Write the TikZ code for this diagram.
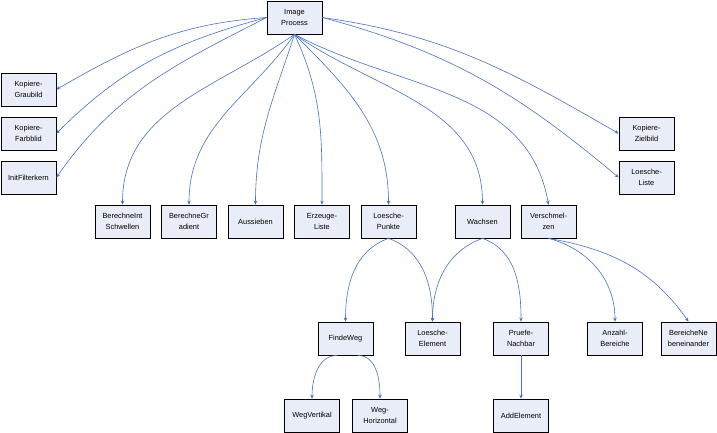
\documentclass[tikz,border=0pt]{standalone}
\usepackage{fontspec}
\setmainfont{Liberation Sans}
\usetikzlibrary{arrows.meta}
\definecolor{boxfill}{RGB}{232,237,247}
\definecolor{linkblue}{RGB}{68,114,196}
\begin{document}
\begin{tikzpicture}[x=1pt,y=-1pt,
    block/.style={draw=black,fill=boxfill,line width=0.7pt,minimum width=55pt,minimum height=33pt,inner sep=0pt,align=center,font=\fontsize{7.4}{10.5}\selectfont},
    link/.style={draw=linkblue,line width=0.6pt,-{Stealth[length=4pt,width=3.5pt]}}]
        \useasboundingbox (0,0) rectangle (717,433);

        \node[block] (ip) at (294.5,17.5) {Image\\Process};

        \node[block] (kgb) at (28.5,89.5) {Kopiere-\\Graubild};
        \node[block] (kfb) at (28.5,133.5) {Kopiere-\\Farbblid};
        \node[block] (ifk) at (28.5,177.5) {InitFilterkern};

        \node[block] (kzb) at (646.5,133.5) {Kopiere-\\Zielbild};
        \node[block] (ll) at (646.5,177.5) {Loesche-\\Liste};

        \node[block] (bis) at (122.5,221.5) {BerechneInt\\Schwellen};
        \node[block] (bg) at (189,221.5) {BerechneGr\\adient};
        \node[block] (aus) at (255.5,221.5) {Aussieben};
        \node[block] (el) at (322,221.5) {Erzeuge-\\Liste};
        \node[block] (lp) at (388.5,221.5) {Loesche-\\Punkte};
        \node[block] (wa) at (482.5,221.5) {Wachsen};
        \node[block] (vs) at (548.5,221.5) {Verschmel-\\zen};

        \node[block] (fw) at (345.5,338.5) {FindeWeg};
        \node[block] (le) at (432.5,338.5) {Loesche-\\Element};
        \node[block] (pn) at (521,338.5) {Pruefe-\\Nachbar};
        \node[block] (ab) at (615,338.5) {Anzahl-\\Bereiche};
        \node[block] (bn) at (688.5,338.5) {BereicheNe\\beneinander};

        \node[block] (wv) at (312,415.5) {WegVertikal};
        \node[block] (wh) at (380,415.5) {Weg-\\Horizontal};
        \node[block] (ae) at (521,415.5) {AddElement};

        \draw[link] (ip.west) to[out=184,in=30] (kgb.east);
        \draw[link] (ip.west) to[out=195,in=45] (kfb.east);
        \draw[link] (ip.west) to[out=207,in=55] (ifk.east);
        \draw[link] (ip.east) to[out=-8,in=150] (kzb.west);
        \draw[link] (ip.east) to[out=-15,in=140] (ll.west);

        \draw[link] (ip.south) to[out=215,in=90] (bis.north);
        \draw[link] (ip.south) to[out=235,in=90] (bg.north);
        \draw[link] (ip.south) to[out=252,in=90] (aus.north);
        \draw[link] (ip.south) to[out=295,in=90] (el.north);
        \draw[link] (ip.south) to[out=315,in=90] (lp.north);
        \draw[link] (ip.south) to[out=325,in=90] (wa.north);
        \draw[link] (ip.south) to[out=332,in=100] (vs.north);

        \draw[link] (lp.south) to[out=200,in=90] (fw.north);
        \draw[link] (lp.south) to[out=-20,in=90] (le.north);
        \draw[link] (wa.south) to[out=200,in=90] (le.north);
        \draw[link] (wa.south) to[out=-20,in=90] (pn.north);
        \draw[link] (vs.south) to[out=-15,in=90] (ab.north);
        \draw[link] (vs.south) to[out=-10,in=125] (bn.north);

        \draw[link] ([xshift=-8pt]fw.south) to[out=180,in=90] (wv.north);
        \draw[link] ([xshift=12pt]fw.south) to[out=0,in=90] (wh.north);
        \draw[link] (pn.south) -- (ae.north);
\end{tikzpicture}
\end{document}
